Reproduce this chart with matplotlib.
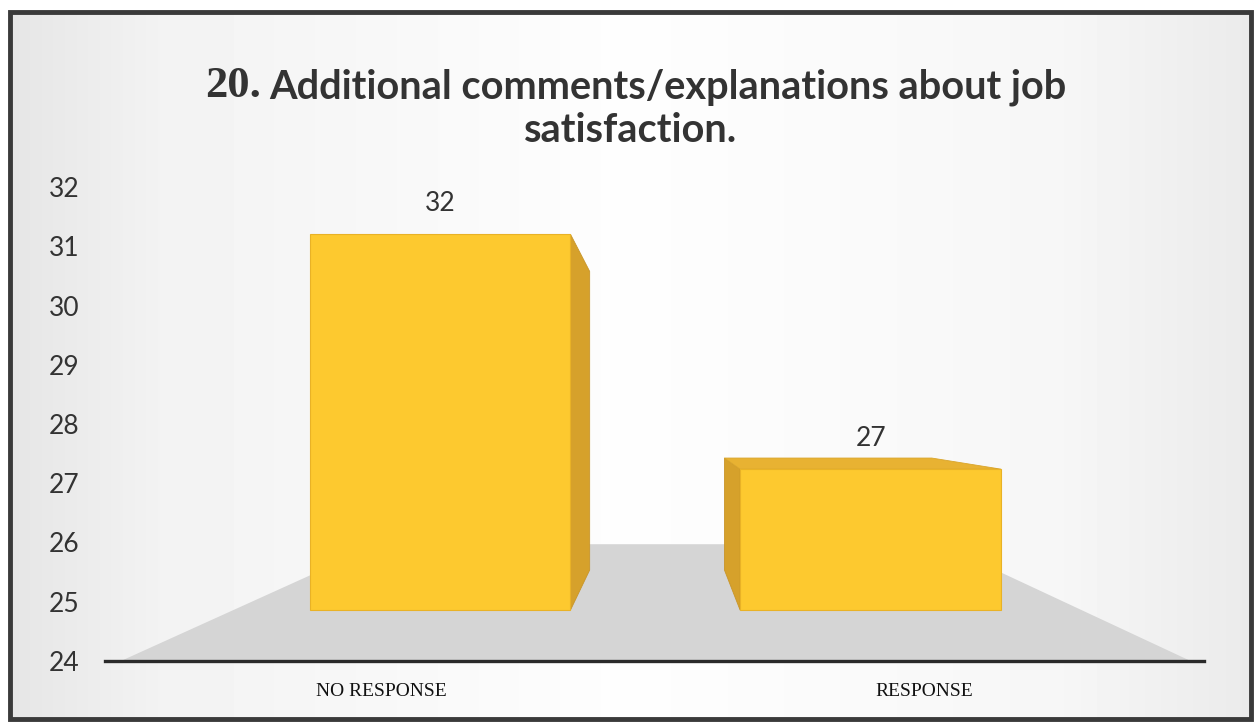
import numpy as np
import matplotlib.pyplot as plt
from matplotlib.patches import Polygon, Rectangle

categories = ['NO RESPONSE', 'RESPONSE']
counts = [32, 27]
y_ticks = [24, 25, 26, 27, 28, 29, 30, 31, 32]
title_num = '20.'
title_line1 = 'Additional comments/explanations about job'
title_line2 = 'satisfaction.'

# fake 3-D perspective: everything shrinks toward a vanishing point
VP = (0.52, 28.15)
D_FRONT, D_BACK, D_FLOOR = 0.207, 0.37, 0.475
BAR_HALF = 0.303
BASE = 24

FRONT = '#fdc92f'
SIDE = '#d6a12b'
TOP = '#e8b232'
FLOOR = '#d5d5d5'
TXT = '#333333'


def proj(x, y, d):
    return (x + (VP[0] - x) * d, y + (VP[1] - y) * d)


fig = plt.figure(figsize=(12.54, 7.26), dpi=100)
fig.patch.set_facecolor('white')

# background panel with a soft grey gradient and dark frame
bg = fig.add_axes([0, 0, 1, 1], zorder=-1)
bg.set_xlim(0, 1)
bg.set_ylim(0, 1)
bg.axis('off')
gx = np.linspace(0, 1, 400)
shade = np.interp(gx, [0, 0.12, 0.5, 0.85, 1], [0.90, 0.95, 0.995, 0.965, 0.92])
grad = np.tile(shade, (50, 1))
fx0, fy0, fw, fh = 10 / 1254, 7 / 726, 1241 / 1254, 707 / 726
bg.imshow(grad, cmap='gray', vmin=0, vmax=1, aspect='auto',
          extent=[fx0, fx0 + fw, fy0, fy0 + fh], interpolation='bilinear')
bg.add_patch(Rectangle((fx0, fy0), fw, fh, fill=False, edgecolor='#3a3a3a', lw=3.5))

ax = fig.add_axes([104.6 / 1254, 65 / 726, 1099.6 / 1254, 474 / 726])
ax.set_facecolor('none')
ax.set_xlim(-0.51, 1.515)
ax.set_ylim(24, 32)
for s in ['top', 'right', 'left']:
    ax.spines[s].set_visible(False)
ax.spines['bottom'].set_color('#2a2a2a')
ax.spines['bottom'].set_linewidth(2.4)
ax.spines['bottom'].set_zorder(5)

# floor
floor = [proj(-0.48, BASE, 0), proj(1.49, BASE, 0), proj(1.49, BASE, D_FLOOR), proj(-0.48, BASE, D_FLOOR)]
ax.add_patch(Polygon(floor, closed=True, facecolor=FLOOR, edgecolor='none', zorder=1))

# bars
for i, v in enumerate(counts):
    xl, xr = i - BAR_HALF, i + BAR_HALF
    if xr < VP[0]:
        side = [proj(xr, BASE, D_FRONT), proj(xr, BASE, D_BACK), proj(xr, v, D_BACK), proj(xr, v, D_FRONT)]
    else:
        side = [proj(xl, BASE, D_FRONT), proj(xl, BASE, D_BACK), proj(xl, v, D_BACK), proj(xl, v, D_FRONT)]
    ax.add_patch(Polygon(side, closed=True, facecolor=SIDE, edgecolor='#c8952a', lw=0.6, zorder=2))
    if v < VP[1]:
        top = [proj(xl, v, D_FRONT), proj(xr, v, D_FRONT), proj(xr, v, D_BACK), proj(xl, v, D_BACK)]
        ax.add_patch(Polygon(top, closed=True, facecolor=TOP, edgecolor='#d9a52c', lw=0.6, zorder=2))
    front = [proj(xl, BASE, D_FRONT), proj(xr, BASE, D_FRONT), proj(xr, v, D_FRONT), proj(xl, v, D_FRONT)]
    ax.add_patch(Polygon(front, closed=True, facecolor=FRONT, edgecolor='#e9b226', lw=0.8, zorder=3))
    lx, ly = proj(i, v, D_FRONT)
    ax.annotate(str(v), (lx, ly), xytext=(0, 22), textcoords='offset points',
                ha='center', va='center', fontsize=19, color=TXT,
                family=['Lato', 'DejaVu Sans'], annotation_clip=False)

ax.set_yticks(y_ticks)
ax.set_yticklabels([str(t) for t in y_ticks], family=['Lato', 'DejaVu Sans'], fontsize=19, color=TXT)
ax.tick_params(axis='y', length=0, pad=18)
ax.set_xticks(range(len(categories)))
ax.set_xticklabels(categories, family=['Liberation Serif', 'DejaVu Serif'], fontsize=14, color='#111111')
ax.tick_params(axis='x', length=0, pad=16)

# title: number in serif, rest in bold sans
t1 = fig.text(668 / 1254, 1 - 87 / 726, title_line1, ha='center', va='center',
              fontsize=28.6, fontweight='bold', color=TXT, family=['Lato', 'DejaVu Sans'])
ax.annotate(title_num, xy=(0, 0.5), xycoords=t1, xytext=(-6, 1), textcoords='offset points',
            ha='right', va='center', fontsize=32, fontweight='bold', color=TXT,
            family=['Liberation Serif', 'DejaVu Serif'], annotation_clip=False)
fig.text(631 / 1254, 1 - 130 / 726, title_line2, ha='center', va='center',
         fontsize=28.6, fontweight='bold', color=TXT, family=['Lato', 'DejaVu Sans'])

fig.savefig('out.png', dpi=100)
plt.close(fig)
